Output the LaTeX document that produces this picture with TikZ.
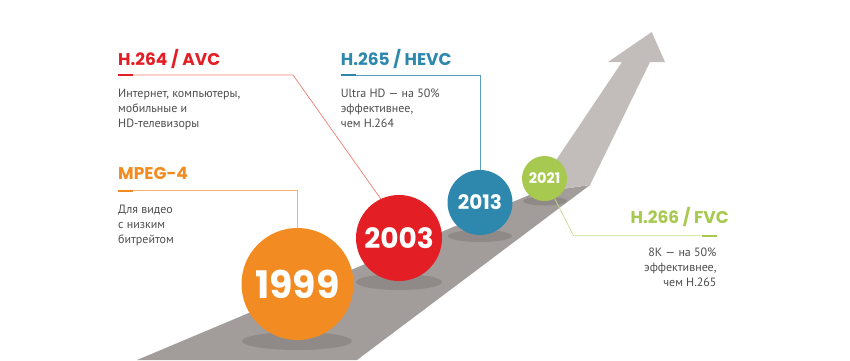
\documentclass[tikz,border=0pt]{standalone}
\usepackage{fontspec}
\setmainfont{PT Sans}
\newfontfamily\headfont{Poppins}
\definecolor{roadgray}{HTML}{A29D9B}
\definecolor{arrowgray}{HTML}{C2BDBA}
\definecolor{shadowgray}{HTML}{8F8A88}
\definecolor{txtgray}{HTML}{4D4D4D}
\definecolor{c99}{HTML}{F28C22}
\definecolor{c99lt}{HTML}{F7B26A}
\definecolor{c03}{HTML}{E31E25}
\definecolor{c03lt}{HTML}{EE7C70}
\definecolor{c13}{HTML}{2E87AD}
\definecolor{c13lt}{HTML}{5A9EC0}
\definecolor{c21}{HTML}{A8C94F}
\definecolor{c21lt}{HTML}{C6DC8E}
\begin{document}
\begin{tikzpicture}[x=1pt,y=-1pt,
  ball/.style={circle, inner sep=0pt, text=white},
  head/.style={anchor=base west, inner sep=0pt, font=\headfont\bfseries\fontsize{17}{17}\selectfont},
  note/.style={anchor=base west, inner sep=0pt, align=left, text=txtgray, font=\fontsize{12}{15}\selectfont},
  bar/.style={line width=2pt},
  lead/.style={line width=0.7pt}]

\useasboundingbox (0,0) rectangle (850,360);

% Define coordinates of the road
\coordinate (RL) at (137,360);   % road, upper edge at bottom
\coordinate (RR) at (357,360);   % road, lower edge at bottom
\coordinate (FL) at (534,193);   % fold, left
\coordinate (FR) at (590,185);   % fold, right
\coordinate (SL) at (622,62);    % shaft top left
\coordinate (BL) at (608,62);    % barb left
\coordinate (T) at (651.7,32);   % arrow tip
\coordinate (BR) at (665,62);    % barb right
\coordinate (SR) at (650,62);    % shaft top right

% Road and upturned arrow
\fill[roadgray] (RL) -- (FL) -- (FR) -- (RR) -- cycle;
\fill[arrowgray] (FL) -- (SL) -- (BL) -- (T) -- (BR) -- (SR) -- (FR) -- cycle;

% Shadows under the balls
\fill[shadowgray] (297,341) ellipse (55 and 9);
\fill[shadowgray] (399,282) ellipse (43 and 8);
\fill[shadowgray] (480,236) ellipse (32 and 6);
\fill[shadowgray] (545,201) ellipse (22 and 4.5);

% Balls
\node[ball, fill=c99, minimum size=112pt, font=\headfont\bfseries\fontsize{38}{38}\selectfont] (y1999) at (297.5,284) {1999};
\node[ball, fill=c03, minimum size=86pt, font=\headfont\bfseries\fontsize{28}{28}\selectfont] (y2003) at (399,238) {2003};
\node[ball, fill=c13, minimum size=65pt, font=\headfont\bfseries\fontsize{20}{20}\selectfont] (y2013) at (480,202.5) {2013};
\node[ball, fill=c21, minimum size=45pt, font=\headfont\bfseries\fontsize{14.5}{14.5}\selectfont] (y2021) at (544.5,178.5) {2021};

% H.264 / AVC
\node[head, text=c03] (h264) at (118,65) {H.264 / AVC};
\coordinate (a264) at (118,75);
\coordinate (b264) at (133,75);
\coordinate (k264) at (293,75);
\draw[lead, c03lt] (b264) -- (k264) -- (y2003.115);
\draw[bar, c03] (a264) -- (b264);
\node[note] (n264) at (118,127.3) {Интернет, компьютеры,\\мобильные и\\HD-телевизоры};

% H.265 / HEVC
\node[head, text=c13] (h265) at (340.7,65) {H.265 / HEVC};
\coordinate (a265) at (340.7,75);
\coordinate (b265) at (356,75);
\coordinate (k265) at (480,75);
\draw[lead, c13lt] (b265) -- (k265) -- (y2013);
\draw[bar, c13] (a265) -- (b265);
\node[note] (n265) at (340.7,127.3) {Ultra HD — на 50\%\\эффективнее,\\чем H.264};

% MPEG-4
\node[head, text=c99] (mp4) at (118,179.5) {MPEG-4};
\coordinate (amp4) at (118,190.7);
\coordinate (bmp4) at (133,190.7);
\coordinate (kmp4) at (297.5,190.7);
\draw[lead, c99lt] (bmp4) -- (kmp4) -- (y1999);
\draw[bar, c99] (amp4) -- (bmp4);
\node[note] (nmp4) at (118,243.3) {Для видео\\с низким\\битрейтом};

% H.266 / FVC
\node[head, anchor=base east, text=c21] (h266) at (729,223.3) {H.266 / FVC};
\coordinate (a266) at (716.7,235.7);
\coordinate (b266) at (701.7,235.7);
\coordinate (k266) at (573.5,235.7);
\draw[lead, c21lt] (b266) -- (k266) -- (y2021);
\draw[bar, c21] (a266) -- (b266);
\node[note, anchor=base east, align=right] (n266) at (716.7,286.7) {8K — на 50\%\\эффективнее,\\чем H.265};

\end{tikzpicture}
\end{document}
